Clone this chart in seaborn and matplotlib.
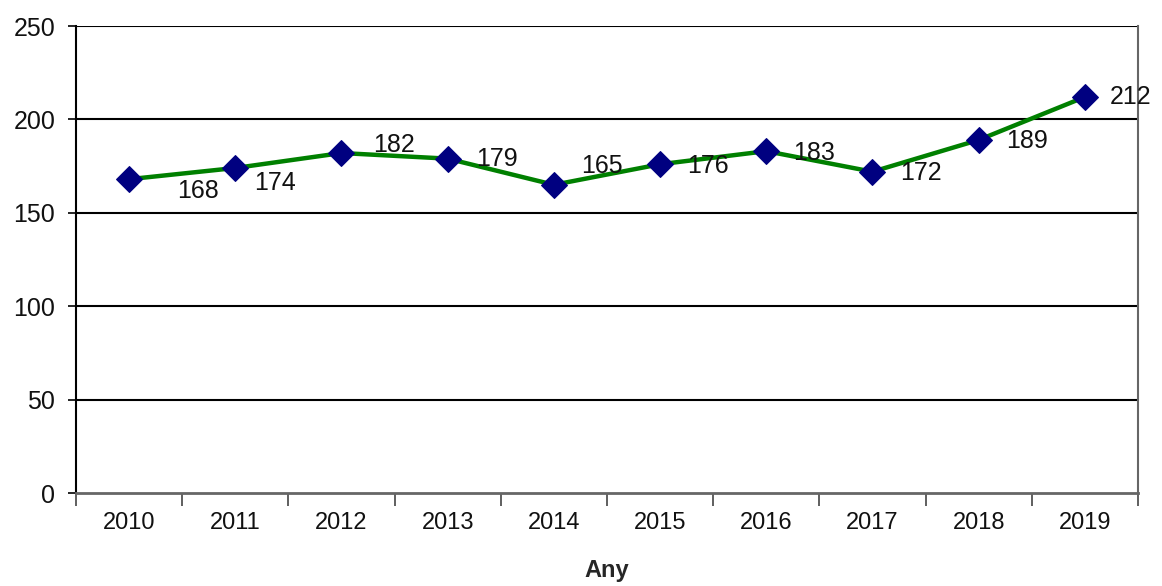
import seaborn as sns
import pandas as pd
import matplotlib.pyplot as plt
from matplotlib.ticker import FixedLocator

years = ["2010", "2011", "2012", "2013", "2014", "2015", "2016", "2017", "2018", "2019"]
values = [168, 174, 182, 179, 165, 176, 183, 172, 189, 212]
y_ticks = [0, 50, 100, 150, 200, 250]
x_label = "Any"

# where each value label sits relative to its point (pixels)
label_offsets = [(69, -12), (40, -15), (53, 8), (49, 0), (48, 19),
                 (48, -2), (48, -2), (48, -1), (48, -1), (46, 0)]

sns.set_style("white")
plt.rcParams["font.family"] = ["Liberation Sans", "DejaVu Sans"]

df = pd.DataFrame({"year": years, "value": values})

fig = plt.figure(figsize=(11.62, 5.86), dpi=100)
ax = fig.add_axes([0.0654, 0.1587, 0.9139, 0.7969])

for t in y_ticks[1:]:
    ax.axhline(t, color="black", lw=1.5, zorder=1)

sns.lineplot(
    data=df, x="year", y="value", ax=ax, color="#008000", linewidth=3.2,
    marker="D", markersize=13, markerfacecolor="#000080",
    markeredgecolor="#000080", zorder=3,
)

for i, (v, off) in enumerate(zip(values, label_offsets)):
    ax.annotate(str(v), (i, v), xytext=off, textcoords="offset pixels",
                ha="center", va="center", fontsize=18, color="#111111")

ax.set_xlim(-0.5, len(years) - 0.5)
ax.set_ylim(0, 250)
ax.set_yticks(y_ticks)
ax.tick_params(axis="y", labelsize=18, length=6, width=1.2, color="black",
               direction="out", left=True, pad=9, labelcolor="#111111")
ax.set_xticks(range(len(years)))
ax.set_xticklabels(years)
ax.xaxis.set_minor_locator(FixedLocator([i - 0.5 for i in range(len(years) + 1)]))
ax.tick_params(axis="x", which="major", length=0, labelsize=17, pad=14,
               labelcolor="#111111")
ax.tick_params(axis="x", which="minor", length=9, width=1.2, color="#444444",
               direction="out", bottom=True)

ax.set_xlabel(x_label, fontsize=17, fontweight="bold", labelpad=18)
ax.set_ylabel("")

ax.spines["left"].set_color("black")
ax.spines["left"].set_linewidth(1.5)
ax.spines["bottom"].set_color("#666666")
ax.spines["bottom"].set_linewidth(2)
ax.spines["right"].set_color("#666666")
ax.spines["right"].set_linewidth(1.5)
ax.spines["top"].set_visible(False)

fig.savefig("out.png", dpi=100)
